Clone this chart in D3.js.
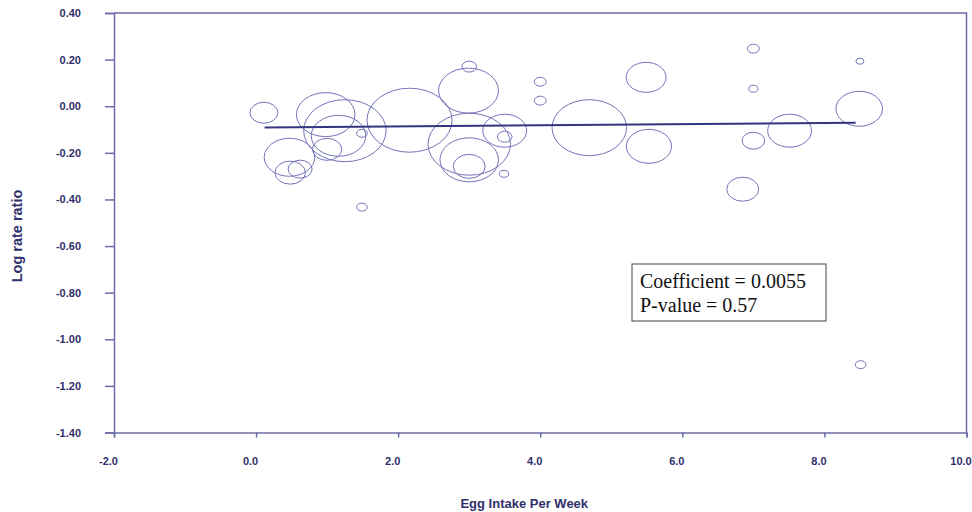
<!DOCTYPE html>
<html>
<head>
<meta charset="utf-8">
<script src="https://cdn.jsdelivr.net/npm/d3@7"></script>
<style>
  html, body { margin: 0; padding: 0; background: #fff; }
  svg { display: block; }
</style>
</head>
<body>
<svg id="chart" width="972" height="512"></svg>
<script>
// ---- Data ----
const eggIntake = [0.11, 0.98, 1.25, 1.16, 1.00, 1.49, 0.47, 0.48, 0.62, 2.16,
                   2.99, 3.00, 3.00, 3.00, 3.00, 3.50, 3.50, 3.49, 1.49, 4.00,
                   4.00, 4.69, 5.49, 5.53, 7.00, 7.00, 7.00, 6.85, 7.51, 8.49,
                   8.50, 8.51];
const logRateRatio = [-0.028, -0.036, -0.105, -0.127, -0.185, -0.116, -0.219, -0.285, -0.270, -0.060,
                      0.067, 0.170, -0.163, -0.230, -0.258, -0.105, -0.131, -0.290, -0.433, 0.105,
                      0.024, -0.092, 0.124, -0.172, 0.247, 0.075, -0.148, -0.356, -0.105, -0.011,
                      0.193, -1.109];
const studyWeight = [11.0, 48.4, 96.1, 42.0, 12.1, 1.6, 36.1, 13.2, 8.1, 102.4,
                     50.6, 3.0, 96.1, 48.4, 14.4, 27.2, 3.0, 1.2, 1.6, 2.0,
                     2.0, 78.4, 22.5, 28.9, 2.0, 1.2, 7.2, 14.4, 27.2, 30.6,
                     0.9, 1.6];
const fitX = [0.12, 8.44];
const fitY = [-0.091, -0.071];
const xTicks = [-2, 0, 2, 4, 6, 8, 10];
const yTicks = [0.4, 0.2, 0, -0.2, -0.4, -0.6, -0.8, -1.0, -1.2, -1.4];
const statsLines = ["Coefficient = 0.0055", "P-value = 0.57"];
const xTitle = "Egg Intake Per Week";
const yTitle = "Log rate ratio";

(function () {
// ---- Layout ----
const svg = d3.select("#chart");
const pL = 114, pR = 966.5, pT = 13, pB = 432.5;
const axisColor = "#6c6ca8";
const textColor = "#2f2f6b";

const x = d3.scaleLinear().domain([-2, 10]).range([pL, pR]);
const y = d3.scaleLinear().domain([-1.4, 0.4]).range([pB, pT]);
const r = d3.scaleSqrt().domain([0, 100]).range([0, Math.sqrt(1000)]);
const aspect = 1.33;

// frame (top and right)
svg.append("path")
  .attr("d", `M${pL},${pT}H${pR}V${pB}`)
  .attr("fill", "none").attr("stroke", axisColor).attr("stroke-width", 1.5);

// axes
const fmtY = d => d.toFixed(2);
const fmtX = d => d.toFixed(1);

const yAxis = svg.append("g")
  .attr("transform", `translate(${pL},0)`)
  .call(d3.axisLeft(y).tickValues(yTicks).tickFormat(fmtY).tickSize(9).tickPadding(24));
const xAxis = svg.append("g")
  .attr("transform", `translate(0,${pB})`)
  .call(d3.axisBottom(x).tickValues(xTicks).tickFormat(fmtX).tickSize(5).tickPadding(20));

[yAxis, xAxis].forEach(g => {
  g.select(".domain").attr("stroke", axisColor).attr("stroke-width", 1.5);
  g.selectAll(".tick line").attr("stroke", axisColor).attr("stroke-width", 1.5);
  g.selectAll(".tick text")
    .attr("fill", textColor)
    .style("font-family", "'Liberation Sans', Arial, sans-serif")
    .style("font-size", "11px")
    .style("font-weight", "bold");
});
xAxis.selectAll(".tick text").attr("dx", -6);

// bubbles
const data = eggIntake.map((v, i) => ({x: v, y: logRateRatio[i], w: studyWeight[i]}));
svg.append("g").selectAll("ellipse")
  .data(data).join("ellipse")
  .attr("cx", d => x(d.x))
  .attr("cy", d => y(d.y))
  .attr("rx", d => r(d.w) * aspect)
  .attr("ry", d => r(d.w))
  .attr("fill", "none")
  .attr("stroke", "#7474b8")
  .attr("stroke-width", 1);

// regression line
svg.append("line")
  .attr("x1", x(fitX[0])).attr("y1", y(fitY[0]))
  .attr("x2", x(fitX[1])).attr("y2", y(fitY[1]))
  .attr("stroke", "#35357f").attr("stroke-width", 2);

// stats box
const boxX = 632, boxY = 264, boxW = 194, boxH = 57;
svg.append("rect")
  .attr("x", boxX).attr("y", boxY).attr("width", boxW).attr("height", boxH)
  .attr("fill", "#fff").attr("stroke", "#444").attr("stroke-width", 1);
svg.append("g").selectAll("text")
  .data(statsLines).join("text")
  .attr("x", boxX + 8)
  .attr("y", (d, i) => boxY + 24 + i * 24)
  .attr("fill", "#111")
  .style("font-family", "'Liberation Serif', 'Times New Roman', serif")
  .style("font-size", "20px")
  .text(d => d);

// axis titles
svg.append("text")
  .attr("x", (pL + pR) / 2 - 16)
  .attr("y", 508)
  .attr("text-anchor", "middle")
  .attr("fill", textColor)
  .style("font-family", "'Liberation Sans', Arial, sans-serif")
  .style("font-size", "13px")
  .style("font-weight", "bold")
  .text(xTitle);
svg.append("text")
  .attr("transform", "translate(22,236) rotate(-90)")
  .attr("text-anchor", "middle")
  .attr("fill", textColor)
  .style("font-family", "'Liberation Sans', Arial, sans-serif")
  .style("font-size", "14.5px")
  .style("font-weight", "bold")
  .text(yTitle);
})();
</script>
</body>
</html>
